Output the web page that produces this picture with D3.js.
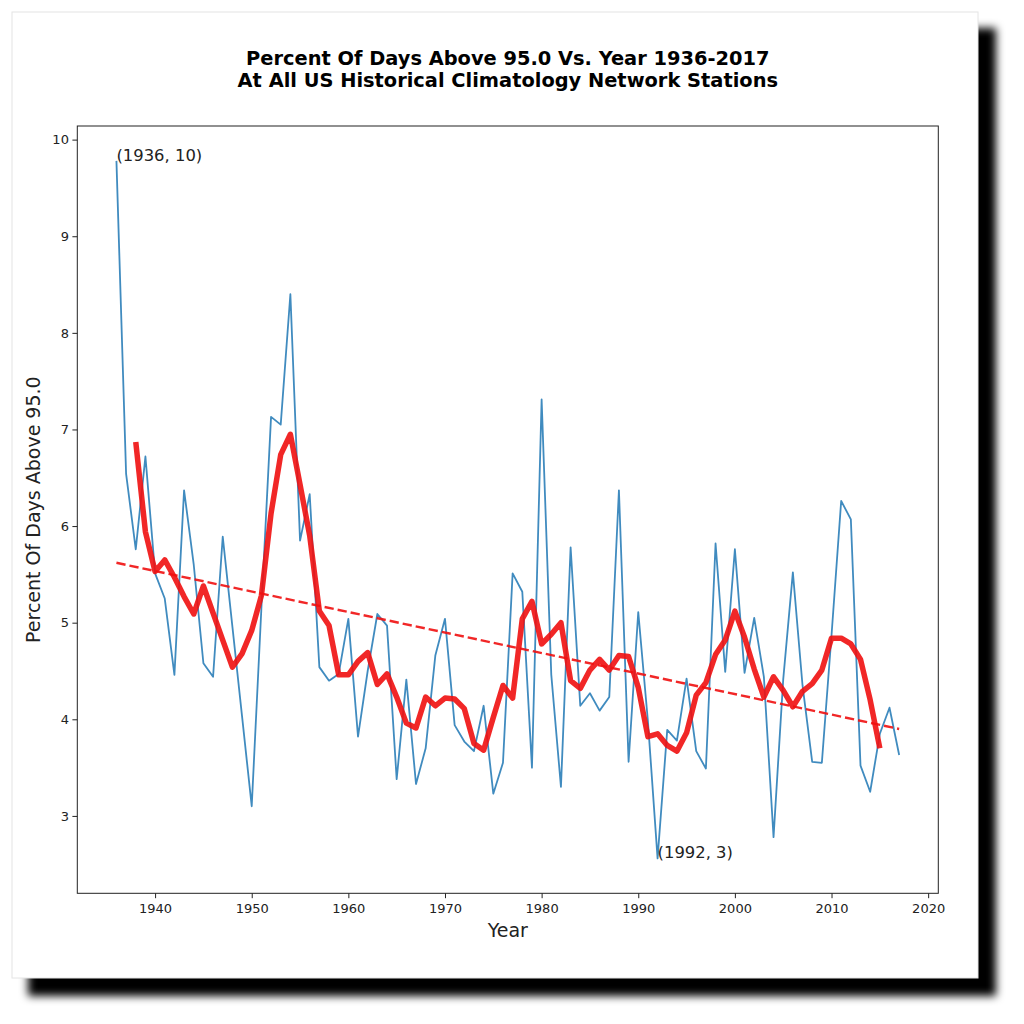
<!DOCTYPE html>
<html>
<head>
<meta charset="utf-8">
<script src="https://cdn.jsdelivr.net/npm/d3@7"></script>
<style>
  html, body { margin: 0; padding: 0; background: #fff; }
  svg { display: block; font-family: "DejaVu Sans", sans-serif; }
</style>
</head>
<body>
<div id="chart"></div>
<script>
// yearly values
const years = d3.range(1936, 2018);
const pctAbove = [
    9.78, 6.54, 5.76, 6.72, 5.51, 5.25, 4.46, 6.37, 5.60, 4.58,
    4.44, 5.89, 4.96, 4.03, 3.10, 5.15, 7.13, 7.05, 8.40, 5.85,
    6.33, 4.54, 4.40, 4.47, 5.04, 3.82, 4.50, 5.09, 4.97, 3.38,
    4.41, 3.33, 3.70, 4.66, 5.04, 3.94, 3.77, 3.67, 4.14, 3.23,
    3.55, 5.51, 5.32, 3.50, 7.31, 4.46, 3.30, 5.78, 4.14, 4.27,
    4.09, 4.23, 6.37, 3.56, 5.11, 3.98, 2.56, 3.89, 3.78, 4.42,
    3.67, 3.49, 5.82, 4.49, 5.76, 4.48, 5.05, 4.44, 2.78, 4.41,
    5.52, 4.35, 3.56, 3.55, 4.87, 6.26, 6.07, 3.52, 3.25, 3.85,
    4.12, 3.63
];
// thick red smoothed curve, 1938-2015
const smoothYears = d3.range(1938, 2016);
const smoothVals = [
    6.87, 5.94, 5.53, 5.65, 5.47, 5.27, 5.09, 5.38, 5.10, 4.82,
    4.54, 4.68, 4.92, 5.28, 6.13, 6.74, 6.95, 6.43, 5.90, 5.12,
    4.97, 4.46, 4.46, 4.60, 4.69, 4.36, 4.47, 4.23, 3.96, 3.91,
    4.23, 4.14, 4.22, 4.21, 4.11, 3.75, 3.68, 4.02, 4.35, 4.22,
    5.04, 5.22, 4.78, 4.88, 5.00, 4.40, 4.32, 4.51, 4.62, 4.51,
    4.66, 4.65, 4.33, 3.82, 3.85, 3.73, 3.67, 3.86, 4.25, 4.38,
    4.67, 4.82, 5.12, 4.85, 4.52, 4.23, 4.44, 4.30, 4.13, 4.29,
    4.37, 4.51, 4.84, 4.84, 4.78, 4.62, 4.20, 3.70
];
// dashed trend line ends
const trendYears = [1936, 2017];
const trendVals = [5.62, 3.90];
// annotated points
const notes = [[1936, 9.78, "(1936, 10)"], [1992, 2.56, "(1992, 3)"]];
const xTicks = [1940, 1950, 1960, 1970, 1980, 1990, 2000, 2010, 2020];
const yTicks = [3, 4, 5, 6, 7, 8, 9, 10];

const W = 1024, H = 1024;
const plotL = 77.3, plotR = 938.3, plotT = 126, plotB = 893.3;

const svg = d3.select("#chart").append("svg")
    .attr("width", W).attr("height", H);

// the card with its drop shadow
const defs = svg.append("defs");
defs.append("filter").attr("id", "blur")
    .attr("x", "-10%").attr("y", "-10%").attr("width", "120%").attr("height", "120%")
    .append("feGaussianBlur").attr("stdDeviation", 4.5);
svg.append("rect")
    .attr("x", 28).attr("y", 28).attr("width", 968).attr("height", 968)
    .attr("fill", "#000").attr("filter", "url(#blur)");
svg.append("rect")
    .attr("x", 12).attr("y", 12).attr("width", 966).attr("height", 966)
    .attr("fill", "#fff").attr("stroke", "#e4e4e4").attr("stroke-width", 1);

// scales, with matplotlib-like 5% margins
let xpad = (years[years.length - 1] - years[0]) * 0.05;
let x = d3.scaleLinear()
    .domain([years[0] - xpad, years[years.length - 1] + xpad])
    .range([plotL, plotR]);
let ylo = d3.min(pctAbove), yhi = d3.max(pctAbove);
let ypad = (yhi - ylo) * 0.05;
let y = d3.scaleLinear()
    .domain([ylo - ypad, yhi + ypad])
    .range([plotB, plotT]);

// axes
let xAxis = svg.append("g")
    .attr("transform", `translate(0,${plotB})`)
    .call(d3.axisBottom(x).tickValues(xTicks).tickFormat(d3.format("d"))
        .tickSize(4.9).tickPadding(6).tickSizeOuter(0));
let yAxis = svg.append("g")
    .attr("transform", `translate(${plotL},0)`)
    .call(d3.axisLeft(y).tickValues(yTicks).tickFormat(d3.format("d"))
        .tickSize(4.9).tickPadding(3.5).tickSizeOuter(0));
[xAxis, yAxis].forEach(function(a){
    a.select(".domain").remove();
    a.selectAll("line").attr("stroke", "#222").attr("stroke-width", 1);
    a.selectAll("text").attr("fill", "#222")
        .style("font-family", "DejaVu Sans").style("font-size", "13px");
});

// plot frame
svg.append("rect")
    .attr("x", plotL).attr("y", plotT)
    .attr("width", plotR - plotL).attr("height", plotB - plotT)
    .attr("fill", "none").attr("stroke", "#222").attr("stroke-width", 1);

// series
let line = d3.line().x(d => x(d[0])).y(d => y(d[1]));
svg.append("path")
    .datum(years.map((yr, i) => [yr, pctAbove[i]]))
    .attr("d", line)
    .attr("fill", "none")
    .attr("stroke", "#1f77b4").attr("stroke-opacity", 0.85)
    .attr("stroke-width", 1.8)
    .attr("stroke-linejoin", "round");
svg.append("path")
    .datum(trendYears.map((yr, i) => [yr, trendVals[i]]))
    .attr("d", line)
    .attr("fill", "none")
    .attr("stroke", "#f01010").attr("stroke-opacity", 0.9)
    .attr("stroke-width", 2.4)
    .attr("stroke-dasharray", "9.3,4");
svg.append("path")
    .datum(smoothYears.map((yr, i) => [yr, smoothVals[i]]))
    .attr("d", line)
    .attr("fill", "none")
    .attr("stroke", "#f01010").attr("stroke-opacity", 0.9)
    .attr("stroke-width", 5.5)
    .attr("stroke-linejoin", "round");

// annotations
svg.selectAll("text.note")
    .data(notes)
    .enter().append("text")
    .attr("class", "note")
    .attr("x", d => x(d[0]))
    .attr("y", d => y(d[1]))
    .attr("fill", "#222")
    .style("font-size", "16.4px")
    .text(d => d[2]);

// titles and axis labels
svg.append("text")
    .attr("x", (plotL + plotR) / 2).attr("y", 65)
    .attr("text-anchor", "middle")
    .style("font-size", "19.4px").style("font-weight", "bold")
    .text("Percent Of Days Above 95.0 Vs. Year 1936-2017");
svg.append("text")
    .attr("x", (plotL + plotR) / 2).attr("y", 87)
    .attr("text-anchor", "middle")
    .style("font-size", "19.4px").style("font-weight", "bold")
    .text("At All US Historical Climatology Network Stations");
svg.append("text")
    .attr("x", (plotL + plotR) / 2).attr("y", 937)
    .attr("text-anchor", "middle")
    .attr("fill", "#222")
    .style("font-size", "19px")
    .text("Year");
svg.append("text")
    .attr("transform", `translate(40,${(plotT + plotB) / 2}) rotate(-90)`)
    .attr("text-anchor", "middle")
    .attr("fill", "#222")
    .style("font-size", "19px")
    .text("Percent Of Days Above 95.0");
</script>
</body>
</html>
